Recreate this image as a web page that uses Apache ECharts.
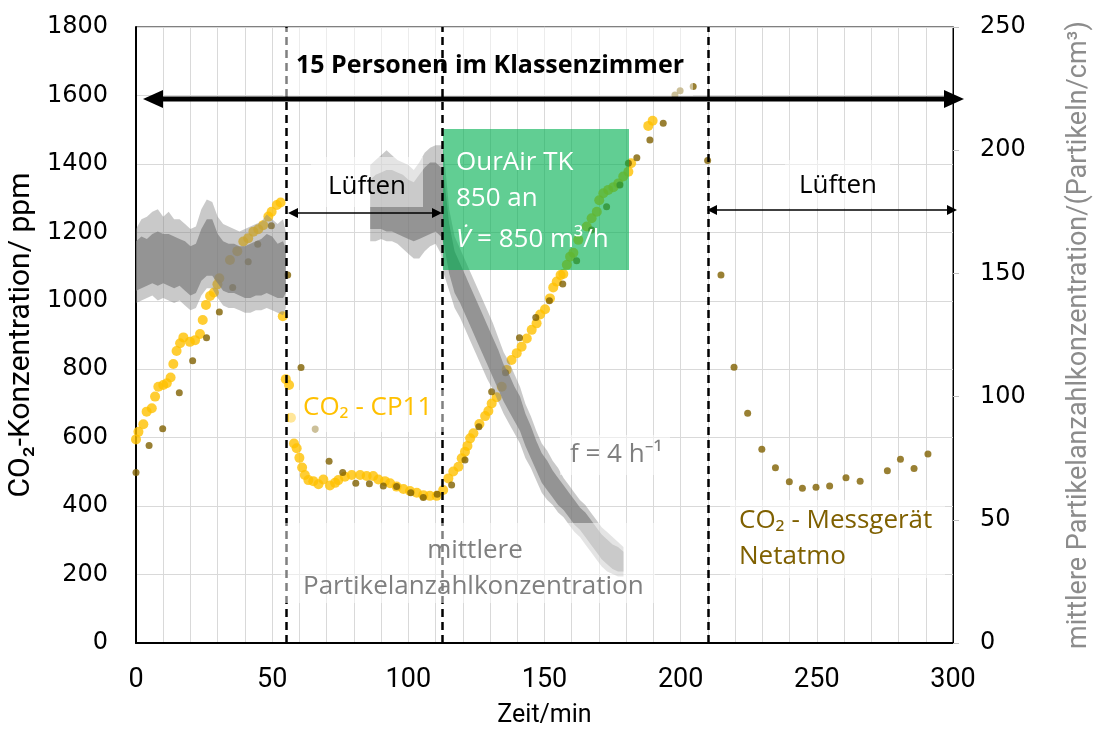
<!DOCTYPE html>
<html>
<head>
<meta charset="utf-8">
<title>CO2 und Partikel im Klassenzimmer</title>
<script src="https://cdn.jsdelivr.net/npm/echarts@6/dist/echarts.min.js"></script>
<style>
  html, body { margin: 0; padding: 0; background: #fff; }
  #chart { width: 1094px; height: 740px; }
</style>
</head>
<body>
<div id="chart"></div>
<script>
// CO2 - CP11 (gelb): [Zeit/min, ppm]
const cp11 = [
  [0, 595], [0.9, 617], [2.7, 639], [3.9, 676], [5.8, 686], [7, 720], [8.2, 749], [10, 754],
  [11.3, 759], [12.7, 776], [13.7, 815], [14.9, 853], [16.2, 876], [17.4, 893], [19.8, 880],
  [21.7, 885], [23.5, 903], [24.5, 944], [25.7, 988], [27.2, 1014], [28.6, 1024], [29.9, 1048],
  [30.6, 1066], [34.5, 1119], [37.2, 1145], [39.4, 1173], [41.2, 1183], [43.1, 1202], [44.9, 1209],
  [46.7, 1221], [48.6, 1246], [49.8, 1260], [51.7, 1280], [53.1, 1287], [53.9, 955], [55, 771],
  [56.2, 754], [56.9, 658], [58, 583], [59, 569], [60, 541], [61, 513], [62, 491], [63.3, 476],
  [65.1, 473], [67, 464], [68.8, 478], [71.2, 460], [73.1, 468], [74.3, 476], [76.7, 486],
  [79.2, 491], [82.3, 491], [84.7, 488], [87.1, 488], [89, 478], [91.4, 473], [93.3, 467],
  [95.7, 457], [98.2, 450], [100.6, 444], [103.1, 439], [105.5, 432], [107.9, 430], [110.4, 430],
  [112.8, 447], [114.7, 481], [116.5, 501], [118.4, 515], [119.6, 540], [120.8, 559], [121.7, 576],
  [122.7, 598], [123.9, 613], [126.1, 640], [128.2, 663], [129.4, 678], [130.6, 700], [132.4, 718],
  [134.3, 749], [136.1, 798], [137.9, 827], [139.8, 847], [141.6, 866], [143.5, 890], [145.3, 915],
  [147.1, 934], [148.4, 960], [150.2, 975], [152, 1007], [153.2, 1039], [154.5, 1056], [155.9, 1075],
  [156.9, 1078], [158.2, 1105], [159.4, 1129], [160.6, 1140], [162.4, 1178], [165.5, 1217],
  [167.3, 1241], [169.2, 1260], [170.1, 1294], [171.6, 1314], [173.4, 1324], [175.3, 1332],
  [177.1, 1343], [178.9, 1363], [180.8, 1377], [181.8, 1402], [188.1, 1511], [189.7, 1526]
]

// CO2 - Messgeraet Netatmo: [Zeit/min, ppm]
const netatmo = [
  [0, 498], [4.8, 577], [9.8, 626], [15.9, 731], [20.8, 825], [25.9, 892], [30.6, 967], [35.5, 1039],
  [41.2, 1114], [44.7, 1165], [49.7, 1219], [55.7, 1075], [60.6, 805], [65.8, 625], [70.9, 531],
  [75.9, 498], [80.7, 467], [85.7, 465], [90.8, 459], [95.7, 457], [100.9, 439], [105.5, 425],
  [110.6, 435], [115.9, 462], [120.8, 535], [125.9, 632], [130.6, 734], [135.7, 790], [140.8, 892],
  [146.8, 951], [151.8, 1000], [156.7, 1049], [161.8, 1117], [167.3, 1207], [172.8, 1275],
  [177.7, 1338], [180.8, 1402], [183.9, 1418], [188.7, 1470], [193.6, 1519], [197.9, 1601],
  [199.8, 1614], [204.6, 1626], [209.9, 1410], [214.8, 1075], [219.6, 806], [224.6, 671],
  [229.8, 566], [234.8, 512], [239.9, 471], [244.7, 452], [249.7, 455], [254.7, 459], [260.7, 483],
  [265.9, 473], [275.9, 503], [280.7, 537], [285.7, 510], [290.8, 552]
]

// mittlere Partikelanzahlkonzentration (rechte Achse), dichter Kern: [Zeit, unten, oben]
const particleCoreA = [
  [0, 143, 163], [2, 144, 165], [4, 145, 164], [6, 146, 166], [8, 145, 167], [10, 146, 166],
  [12, 145, 166], [14, 144, 165], [16, 145, 164], [18, 143, 163], [20, 141, 161], [22, 142, 162],
  [24, 147, 168], [26, 149, 172], [28, 149, 172], [30, 146, 166], [32, 143, 163], [34, 142, 162],
  [36, 142, 162], [38, 141, 161], [40, 140, 161], [42, 140, 162], [44, 141, 163], [46, 141, 164],
  [48, 142, 166], [50, 141, 165], [52, 140, 162], [54, 140, 163], [55, 142, 160]
]
// Streubereich der Einzelwerte: [Zeit, min, max]
const particleSpreadA = [
  [0, 138, 168], [2, 139, 172], [4, 140, 173], [6, 141, 175], [8, 139, 176], [10, 140, 173],
  [12, 139, 175], [14, 138, 172], [16, 139, 172], [18, 137, 170], [20, 135, 168], [22, 136, 169],
  [24, 141, 176], [26, 144, 180], [28, 144, 179], [30, 140, 173], [32, 137, 170], [34, 136, 169],
  [36, 136, 168], [38, 135, 167], [40, 134, 168], [42, 134, 169], [44, 135, 170], [46, 135, 171],
  [48, 136, 174], [50, 135, 172], [52, 134, 170], [54, 133, 172], [55, 136, 167]
]
const particleCoreB = [
  [86, 168, 188], [88, 168, 190], [90, 168, 191], [92, 167, 192], [94, 167, 192], [96, 166, 191],
  [98, 165, 190], [100, 164, 188], [102, 163, 187], [104, 164, 190], [106, 165, 193], [108, 166, 195],
  [110, 167, 195], [112, 165, 193], [113, 162, 190], [115, 150, 170], [117, 142, 159], [119, 138, 154],
  [121, 133, 149], [123, 128, 144], [125, 123, 139], [127, 118, 134], [129, 113, 129], [131, 108, 124],
  [133, 103, 119], [135, 98, 113], [137, 94, 109], [139, 90, 104], [141, 86, 100], [143, 80, 93],
  [145, 75, 88], [147, 70, 82], [149, 65, 77], [151, 62, 74], [153, 59, 70], [155, 56, 67],
  [157, 54, 64], [159, 51, 61], [161, 48, 58], [163, 46, 55], [165, 43, 53], [167, 40, 50],
  [169, 37, 47], [171, 34, 44], [173, 32, 42], [175, 30, 40], [177, 29, 39], [179, 29, 37]
]
const particleSpreadB = [
  [86, 163, 194], [88, 163, 196], [90, 164, 198], [92, 163, 200], [94, 163, 198], [96, 162, 196],
  [98, 160, 195], [100, 158, 194], [102, 156, 192], [104, 156, 195], [106, 159, 199], [108, 161, 201],
  [110, 162, 202], [112, 158, 202], [113, 150, 200], [115, 143, 176], [117, 136, 165], [119, 132, 160],
  [121, 127, 155], [123, 122, 150], [125, 117, 145], [127, 112, 140], [129, 107, 135], [131, 103, 130],
  [133, 98, 124], [135, 93, 118], [137, 89, 114], [139, 85, 109], [141, 81, 104], [143, 75, 97],
  [145, 71, 92], [147, 66, 86], [149, 61, 81], [151, 58, 78], [153, 56, 74], [155, 53, 71],
  [157, 51, 67], [159, 48, 64], [161, 45, 61], [163, 43, 58], [165, 40, 56], [167, 37, 53],
  [169, 34, 50], [171, 31, 47], [173, 29, 45], [175, 28, 43], [177, 27, 41], [179, 27, 39]
]

// Lueften beginnt / Geraet an / Lueften (gestrichelte Linien)
const firstEvent = [55]
const laterEvents = [112.5, 210]

const LABEL = "'Roboto', 'Noto Sans', sans-serif"
const TEXT = "'Open Sans', 'Noto Sans', sans-serif"
const TICKS = "'DejaVu Sans', Verdana, sans-serif"

// Band (Polygon) zwischen unterer und oberer Grenze auf der rechten Achse
function bandSeries(rows, color, z) {
  return {
    type: 'custom',
    yAxisIndex: 1,
    z: z,
    silent: true,
    animation: false,
    data: rows,
    encode: { x: 0, y: [1, 2] },
    renderItem: function (params, api) {
      if (params.dataIndex !== 0) return null
      const top = rows.map((r) => api.coord([r[0], r[2]]))
      const bottom = rows.map((r) => api.coord([r[0], r[1]])).reverse()
      return {
        type: 'polygon',
        shape: { points: top.concat(bottom) },
        style: { fill: color },
      }
    },
  }
}

function dashedLines(times, z) {
  return {
    type: 'scatter', z: z, data: [], silent: true,
    markLine: {
      z: z, silent: true, symbol: 'none', animation: false,
      label: { show: false },
      lineStyle: { color: '#000', width: 2.5, type: [8, 5] },
      data: times.map((t) => ({ xAxis: t })),
    },
  }
}

function txt(x, y, text, color, align, font) {
  return {
    type: 'text', x: x, y: y, z: 111,
    style: { text: text, fill: color, font: font || '26px ' + TEXT, align: align || 'left', verticalAlign: 'middle' },
  }
}

function whiteBox(x, y, w, h, z) {
  return { type: 'rect', z: z || 110, shape: { x: x, y: y, width: w, height: h }, style: { fill: 'rgba(255,255,255,0.5)' } }
}

function arrow(x1, x2, y, lw, head, hw) {
  return [
    { type: 'line', z: 112, shape: { x1: x1 + head - 1, y1: y, x2: x2 - head + 1, y2: y }, style: { stroke: '#000', lineWidth: lw } },
    { type: 'polygon', z: 112, shape: { points: [[x1, y], [x1 + head, y - hw], [x1 + head, y + hw]] }, style: { fill: '#000' } },
    { type: 'polygon', z: 112, shape: { points: [[x2, y], [x2 - head, y - hw], [x2 - head, y + hw]] }, style: { fill: '#000' } },
  ]
}

const chart = echarts.init(document.getElementById('chart'))

const option = {
  animation: false,
  backgroundColor: '#fff',
  grid: {
    left: 136, right: 141, top: 27, bottom: 97,
    outerBoundsMode: 'none', containLabel: false,
    show: true, borderColor: '#000', borderWidth: 1,
  },
  xAxis: {
    type: 'value', min: 0, max: 300, interval: 50,
    name: 'Zeit/min', nameLocation: 'middle', nameGap: 60,
    nameTextStyle: { color: '#000', fontSize: 25, fontFamily: LABEL },
    axisLine: { lineStyle: { color: '#000', width: 2 } },
    axisTick: { show: false },
    axisLabel: { color: '#000', fontSize: 27, fontFamily: LABEL, margin: 24 },
    splitLine: { show: true, lineStyle: { color: '#d9d9d9', width: 1 } },
    minorTick: { show: false, splitNumber: 5 },
    minorSplitLine: { show: true, lineStyle: { color: '#d9d9d9', width: 1 } },
  },
  yAxis: [
    {
      type: 'value', min: 0, max: 1800, interval: 200,
      name: 'CO₂-Konzentration/ ppm', nameLocation: 'middle', nameRotate: 90, nameGap: 98,
      nameTextStyle: { color: '#000', fontSize: 30, fontFamily: LABEL },
      axisLine: { show: true, lineStyle: { color: '#000', width: 2 } },
      axisTick: { show: false },
      axisLabel: { color: '#000', fontSize: 24, fontFamily: TICKS, margin: 28, formatter: (v) => String(v) },
      splitLine: { show: true, lineStyle: { color: '#d9d9d9', width: 1 } },
    },
    {
      type: 'value', min: 0, max: 250, interval: 50, position: 'right',
      name: 'mittlere Partikelanzahlkonzentration/(Partikeln/cm³)', nameLocation: 'middle', nameRotate: 90, nameGap: 113,
      nameTextStyle: { color: '#8c8c8c', fontSize: 27, fontFamily: LABEL },
      axisLine: { show: true, lineStyle: { color: '#000', width: 1 } },
      axisTick: { show: true, length: 6, lineStyle: { color: '#bfbfbf' } },
      axisLabel: { color: '#000', fontSize: 24, fontFamily: TICKS, margin: 27, formatter: (v) => String(v) },
      splitLine: { show: false },
    },
  ],
  series: [
    {
      name: 'CO2 - CP11', type: 'scatter', z: 2,
      symbol: 'circle', symbolSize: 10,
      itemStyle: { color: '#ffc000' },
      data: cp11,
    },
    {
      name: 'CO2 - Netatmo', type: 'scatter', z: 3,
      symbol: 'circle', symbolSize: 7,
      itemStyle: { color: '#7f6000' },
      data: netatmo,
    },
    bandSeries(particleSpreadA, 'rgba(127,127,127,0.42)', 4),
    bandSeries(particleCoreA, 'rgba(125,125,125,0.7)', 5),
    bandSeries(particleSpreadB, 'rgba(127,127,127,0.42)', 4),
    bandSeries(particleCoreB, 'rgba(125,125,125,0.7)', 5),
    dashedLines(firstEvent, 8),
    dashedLines(laterEvents, 102),
  ],
  graphic: [
    // OurAir-Kasten
    { type: 'rect', z: 100, shape: { x: 443, y: 129, width: 186, height: 141 }, style: { fill: 'rgba(0,176,80,0.62)' } },
    // halbtransparente Textfelder
    whiteBox(283, 28, 410, 69, 101),
    whiteBox(311, 157, 112, 50),
    whiteBox(785, 160, 105, 48),
    whiteBox(289, 390, 161, 42),
    whiteBox(281, 523, 374, 80),
    whiteBox(560, 435, 110, 40),
    whiteBox(730, 500, 215, 78),
    txt(490, 66, '15 Personen im Klassenzimmer', '#000', 'center', 'bold 25px ' + TEXT),
    txt(367, 187, 'Lüften', '#000', 'center'),
    txt(838, 186, 'Lüften', '#000', 'center'),
    txt(456, 163, 'OurAir TK', '#fff'),
    txt(456, 199, '850 an', '#fff'),
    {
      type: 'text', x: 456, y: 240, z: 111,
      style: {
        text: '{v|V̇} = 850 m³/h', fill: '#fff', font: '26px ' + TEXT, verticalAlign: 'middle',
        rich: { v: { fontStyle: 'italic', fontFamily: 'Open Sans', fontSize: 26, fill: '#fff' } },
      },
    },
    txt(303, 408, 'CO₂ - CP11', '#ffc000'),
    txt(570, 455, 'f = 4 h⁻¹', '#7f7f7f'),
    txt(475, 551, 'mittlere', '#7f7f7f', 'center'),
    txt(303, 587, 'Partikelanzahlkonzentration', '#7f7f7f'),
    txt(739, 521, 'CO₂ - Messgerät', '#7f6000'),
    txt(739, 557, 'Netatmo', '#7f6000'),
  ]
    .concat(arrow(143, 964, 99, 5, 20, 9))
    .concat(arrow(288, 442, 213, 1.3, 10, 5))
    .concat(arrow(707, 957, 210, 1.3, 10, 5)),
}

chart.setOption(option)
</script>
</body>
</html>
